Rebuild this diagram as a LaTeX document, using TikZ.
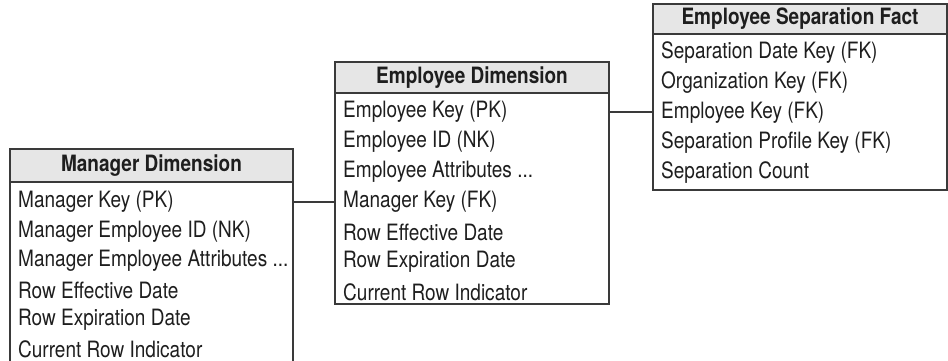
\documentclass[tikz,border=0pt]{standalone}
\usepackage{fontspec}
\setmainfont{TeX Gyre Heros}[FakeStretch=0.845]
\definecolor{linegray}{HTML}{3A3A3A}
\definecolor{hdrfill}{HTML}{E6E6E6}
\definecolor{txt}{HTML}{1E1E1E}
\tikzset{
  tbox/.style={draw=linegray, line width=1.3pt, inner sep=0pt, outer sep=0pt, anchor=north west},
  hdr/.style={tbox, fill=hdrfill, text=txt, font=\fontsize{22.5}{26}\selectfont\bfseries},
  tbody/.style={tbox, fill=white},
  rowtxt/.style={anchor=west, inner sep=0pt, text=txt, font=\fontsize{22.5}{26}\selectfont},
  conn/.style={draw=linegray, line width=1.3pt}
}
\begin{document}
\begin{tikzpicture}[x=1pt,y=-1pt]
\useasboundingbox (0,0) rectangle (948,361);
% Manager Dimension
\node[hdr, minimum width=283pt, minimum height=33pt] (mh) at (10,149) {Manager Dimension};
\node[tbody, minimum width=283pt, minimum height=220pt] (mb) at (mh.south west) {};
\node[rowtxt] (m1) at (18,202) {Manager Key (PK)};
\node[rowtxt] (m2) at (18,231.5) {Manager Employee ID (NK)};
\node[rowtxt] (m3) at (18,261) {Manager Employee Attributes ...};
\node[rowtxt] (m4) at (18,290.5) {Row Effective Date};
\node[rowtxt] (m5) at (18,320) {Row Expiration Date};
\node[rowtxt] (m6) at (18,349.5) {Current Row Indicator};
% Employee Dimension
\node[hdr, minimum width=274pt, minimum height=31pt] (eh) at (335,62) {Employee Dimension};
\node[tbody, minimum width=274pt, minimum height=211pt] (eb) at (eh.south west) {};
\node[rowtxt] (e1) at (343,112) {Employee Key (PK)};
\node[rowtxt] (e2) at (343,142) {Employee ID (NK)};
\node[rowtxt] (e3) at (343,172) {Employee Attributes ...};
\node[rowtxt] (e4) at (343,202) {Manager Key (FK)};
\node[rowtxt] (e5) at (343,232) {Row Effective Date};
\node[rowtxt] (e6) at (343,262) {Row Expiration Date};
\node[rowtxt] (e7) at (343,292) {Current Row Indicator};
% Employee Separation Fact
\node[hdr, minimum width=294pt, minimum height=30pt] (fh) at (653,4) {Employee Separation Fact};
\node[tbody, minimum width=294pt, minimum height=156pt] (fb) at (fh.south west) {};
\node[rowtxt] (f1) at (661,53) {Separation Date Key (FK)};
\node[rowtxt] (f2) at (661,83) {Organization Key (FK)};
\node[rowtxt] (f3) at (661,113) {Employee Key (FK)};
\node[rowtxt] (f4) at (661,143) {Separation Profile Key (FK)};
\node[rowtxt] (f5) at (661,173) {Separation Count};
% connectors
\draw[conn] (m1 -| mb.east) -- (e4 -| eb.west);
\draw[conn] (e1 -| eb.east) -- (e1 -| fb.west);
\end{tikzpicture}
\end{document}
